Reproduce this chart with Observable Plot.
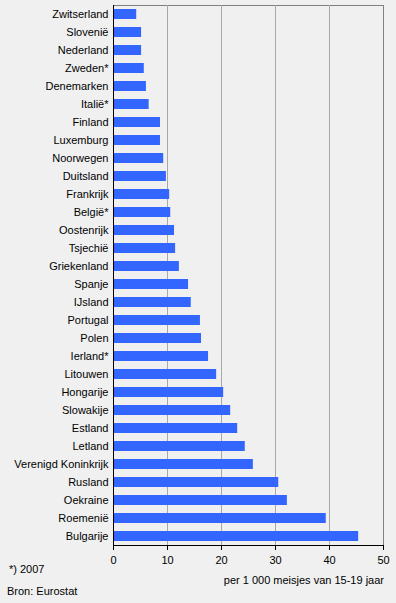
<!DOCTYPE html>
<html>
<head>
<meta charset="utf-8">
<script src="https://cdn.jsdelivr.net/npm/d3@7"></script>
<script src="https://cdn.jsdelivr.net/npm/@observablehq/plot@0.6"></script>
<style>
  html, body { margin: 0; padding: 0; background: #f0f0f0; }
  #wrap { position: relative; width: 396px; height: 603px; font-family: "Liberation Sans", Arial, sans-serif; font-size: 11px; color: #000; }
  .note { position: absolute; line-height: 1; white-space: nowrap; }
</style>
</head>
<body>
<div id="wrap">
  <div id="chart"></div>
  <div class="note" style="left:9px; top:564px;">*) 2007</div>
  <div class="note" style="right:12px; top:575px;">per 1 000 meisjes van 15-19 jaar</div>
  <div class="note" style="left:7px; top:586px;">Bron: Eurostat</div>
</div>
<script>
const countries = ["Zwitserland","Slovenië","Nederland","Zweden*","Denemarken","Italië*","Finland","Luxemburg","Noorwegen","Duitsland","Frankrijk","België*","Oostenrijk","Tsjechië","Griekenland","Spanje","IJsland","Portugal","Polen","Ierland*","Litouwen","Hongarije","Slowakije","Estland","Letland","Verenigd Koninkrijk","Rusland","Oekraine","Roemenië","Bulgarije"];
const values = [4.3,5.2,5.2,5.7,6.1,6.6,8.7,8.7,9.3,9.8,10.4,10.6,11.3,11.5,12.2,13.9,14.4,16.1,16.3,17.6,19.1,20.4,21.7,23.0,24.4,25.9,30.6,32.2,39.4,45.4];
const xTicks = [0,10,20,30,40,50];
const gridTicks = [10,20,30,40];

const data = countries.map((c, i) => ({country: c, value: values[i]}));

const bottomLine = (index, scales, vals, dims) => {
  const ns = "http://www.w3.org/2000/svg";
  const line = document.createElementNS(ns, "line");
  const y = dims.height - dims.marginBottom + 0.5;
  line.setAttribute("x1", dims.marginLeft);
  line.setAttribute("x2", dims.width - dims.marginRight + 1);
  line.setAttribute("y1", y);
  line.setAttribute("y2", y);
  line.setAttribute("stroke", "black");
  return line;
};

const chart = Plot.plot({
  width: 396,
  height: 603,
  marginTop: 5,
  marginBottom: 58,
  marginLeft: 113,
  marginRight: 13,
  style: {fontFamily: "'Liberation Sans', Arial, sans-serif", fontSize: "11px", background: "#f0f0f0", color: "black"},
  x: {domain: [0, 50]},
  y: {domain: countries, paddingInner: 0.46, paddingOuter: 0.23},
  marks: [
    Plot.frame({stroke: "#808080"}),
    Plot.ruleX(gridTicks, {stroke: "#a8a8a8"}),
    Plot.barX(data, {x: "value", y: "country", fill: "#3366ff"}),
    Plot.ruleX([0], {stroke: "black"}),
    bottomLine,
    Plot.axisX({ticks: xTicks, tickSize: 5, tickPadding: 6, label: null, stroke: "black"}),
    Plot.axisY({tickSize: 0, tickPadding: 5, label: null})
  ]
});
document.getElementById("chart").appendChild(chart);
</script>
</body>
</html>
